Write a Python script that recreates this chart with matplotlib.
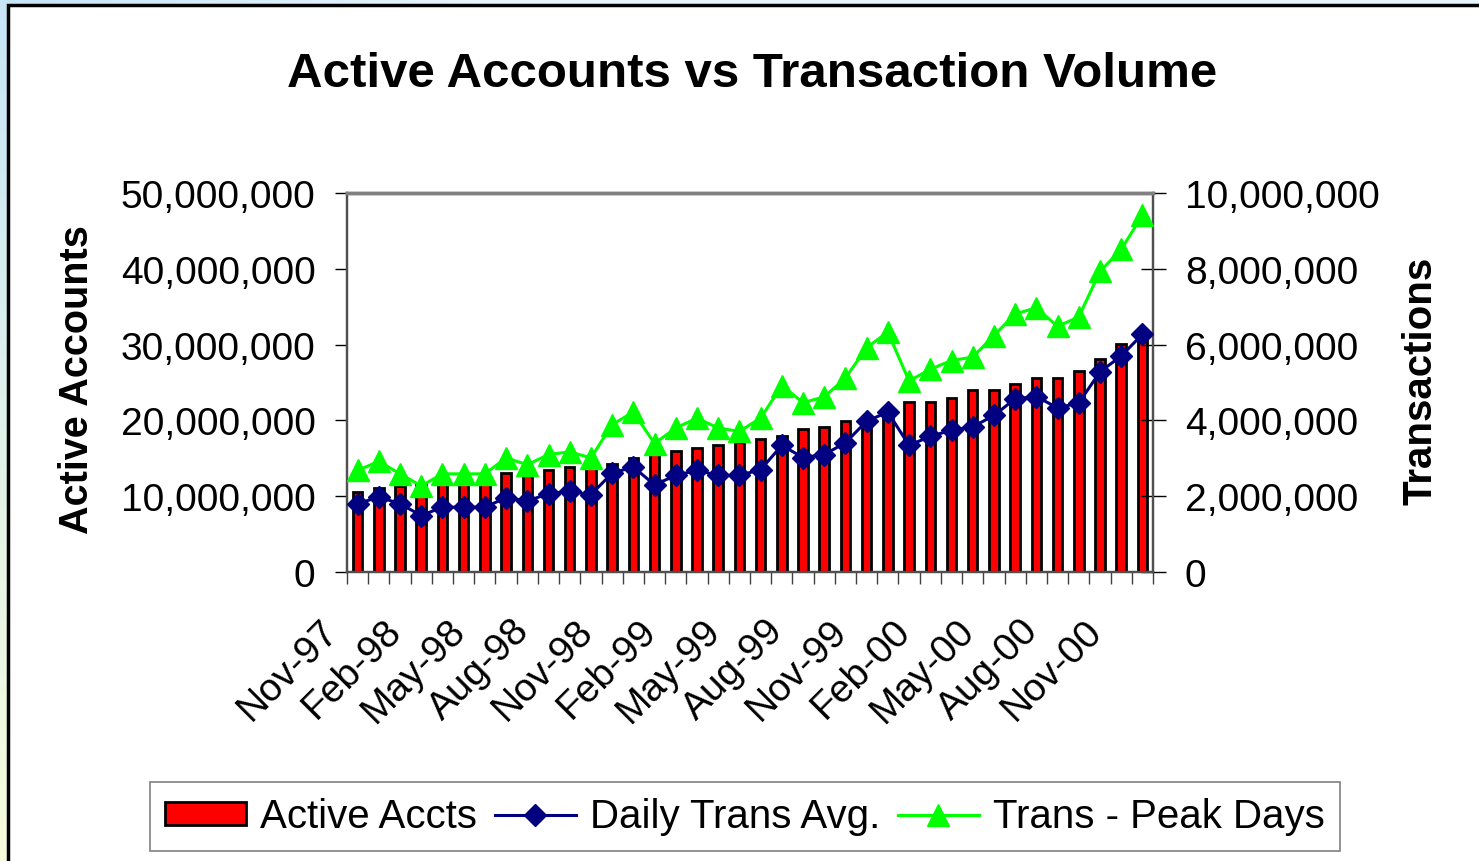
import numpy as np
import pandas as pd
import matplotlib
matplotlib.use('Agg')
import matplotlib.pyplot as plt
from matplotlib.patches import Rectangle
from matplotlib.ticker import FuncFormatter, FixedLocator
from matplotlib.transforms import ScaledTranslation

plt.rcParams['font.family'] = ['Liberation Sans', 'DejaVu Sans']

# monthly data, Nov-97 .. Dec-00 (values in millions)
months = pd.date_range('1997-11-01', periods=38, freq='MS')
active_accts = [10.5, 11.1, 11.4, 11.6, 11.8, 12.2, 12.6, 13.1, 13.1, 13.5,
                13.9, 14.1, 14.3, 15.1, 15.6, 15.9, 16.4, 16.8, 17.2, 17.5,
                17.9, 18.8, 19.1, 19.9, 20.4, 21.3, 22.4, 22.4, 22.9, 24.0,
                24.0, 24.8, 25.6, 25.6, 26.5, 28.1, 30.1, 31.3]
daily_avg = [1.80, 1.98, 1.80, 1.49, 1.71, 1.71, 1.71, 1.96, 1.87, 2.07,
             2.13, 2.04, 2.61, 2.77, 2.30, 2.55, 2.68, 2.55, 2.55, 2.70,
             3.34, 3.02, 3.10, 3.41, 3.98, 4.22, 3.34, 3.58, 3.74, 3.83,
             4.13, 4.57, 4.63, 4.33, 4.46, 5.28, 5.70, 6.27]
peak_days = [2.68, 2.92, 2.59, 2.27, 2.59, 2.59, 2.59, 3.01, 2.83, 3.10,
             3.17, 3.01, 3.89, 4.22, 3.39, 3.80, 4.06, 3.80, 3.71, 4.06,
             4.92, 4.47, 4.62, 5.12, 5.92, 6.33, 5.04, 5.35, 5.58, 5.67,
             6.24, 6.81, 6.97, 6.48, 6.73, 7.93, 8.51, 9.41]
tick_labels = ['Nov-97', 'Feb-98', 'May-98', 'Aug-98', 'Nov-98', 'Feb-99', 'May-99',
               'Aug-99', 'Nov-99', 'Feb-00', 'May-00', 'Aug-00', 'Nov-00']

x = np.arange(len(months))
accts = np.array(active_accts) * 1e6
daily = np.array(daily_avg) * 1e6
peak = np.array(peak_days) * 1e6

W, H = 1479, 862
fig = plt.figure(figsize=(W / 100, H / 100), dpi=100)

# background: soft gradient behind a white framed chart area
bg = fig.add_axes([0, 0, 1, 1], zorder=-10)
bg.set_axis_off()
t = np.linspace(0, 1, 200)[:, None]
s = np.clip(np.linspace(0, 1, 200)[None, :] * 3, 0, 1)
blue = np.array([0.78, 0.90, 0.97])
yellow = np.array([0.97, 0.99, 0.86])
base = blue[None, None, :] * (1 - t[..., None]) + yellow[None, None, :] * t[..., None]
grad = base * (1 - s[..., None] * 0.6) + 0.6 * s[..., None]
bg.imshow(grad, extent=[0, 1, 0, 1], aspect='auto', transform=bg.transAxes)
bg.add_patch(Rectangle((8 / W, -0.1), 1.2, 1 - 6 / H + 0.1, transform=bg.transAxes,
                       facecolor='white', edgecolor='black', linewidth=2.5, clip_on=False))
bg.set_xlim(0, 1)
bg.set_ylim(0, 1)

ax = fig.add_axes([347 / W, 1 - 573 / H, (1153 - 347) / W, (573 - 194) / H])
ax2 = ax.twinx()

ax.bar(x, accts, width=0.45, color='#FF0000', edgecolor='black', linewidth=2.0, zorder=2)
ax2.plot(x, daily, color='#000080', lw=2.2, marker='D', markersize=11,
         label='Daily Trans Avg.', zorder=3)
ax2.plot(x, peak, color='#00FF00', lw=2.2, marker='^', markersize=16.5,
         label='Trans - Peak Days', zorder=3)

ax.set_xlim(-0.5, len(x) - 0.5)
ax.set_ylim(0, 50e6)
ax2.set_ylim(0, 10e6)
ax.set_yticks(np.arange(0, 50e6 + 1, 10e6))
ax2.set_yticks(np.arange(0, 10e6 + 1, 2e6))
fmt = FuncFormatter(lambda v, p: f'{v:,.0f}')
ax.yaxis.set_major_formatter(fmt)
ax2.yaxis.set_major_formatter(fmt)

# tick marks between categories, labels every third month
ax.xaxis.set_major_locator(FixedLocator(np.arange(-0.5, len(x), 1.0)))
ax.xaxis.set_minor_locator(FixedLocator(x[::3]))
ax.set_xticklabels([], minor=False)
ax.set_xticklabels(tick_labels, minor=True, rotation=45, ha='right', va='center',
                   rotation_mode='anchor', fontsize=28)
ax.tick_params(axis='x', which='major', direction='out', length=8.6, width=1, color='#404040')
ax.tick_params(axis='x', which='minor', length=0, pad=38)
off = ScaledTranslation(-18 / 72, 0, fig.dpi_scale_trans)
for lab in ax.xaxis.get_minorticklabels():
    lab.set_transform(lab.get_transform() + off)

ax.tick_params(axis='y', direction='out', length=8.6, width=1, pad=14, labelsize=28)
ax2.tick_params(axis='y', direction='inout', length=18, width=1, pad=14, labelsize=28)

for a in (ax, ax2):
    for side in ('left', 'bottom', 'right'):
        a.spines[side].set_color('#505050')
        a.spines[side].set_linewidth(1.6)
    a.spines['top'].set_color('#808080')
    a.spines['top'].set_linewidth(2.5)

fig.text(752 / W, 1 - 87 / H, 'Active Accounts vs Transaction Volume', ha='center',
         va='baseline', fontsize=35.5, fontweight='bold')
fig.text(77 / W, 1 - 380 / H, 'Active Accounts', rotation=90, ha='center', va='center',
         fontsize=28.5, fontweight='bold')
fig.text(1421 / W, 1 - 381 / H, 'Transactions', rotation=90, ha='center', va='center',
         fontsize=29, fontweight='bold')

bar_handle = Rectangle((0, 0), 1, 1, facecolor='#FF0000', edgecolor='black', linewidth=2.0)
h2, l2 = ax2.get_legend_handles_labels()
leg = fig.legend([bar_handle] + h2, ['Active Accts'] + l2, loc='center',
                 bbox_to_anchor=(745 / W, 1 - 817.5 / H), ncol=3, fontsize=29,
                 frameon=True, fancybox=False, edgecolor='#808080', framealpha=1,
                 handlelength=2.0, handleheight=0.5, handletextpad=0.35,
                 columnspacing=0.45, borderpad=0.38)
leg.get_frame().set_linewidth(1.2)

fig.savefig('out.png', dpi=100)
